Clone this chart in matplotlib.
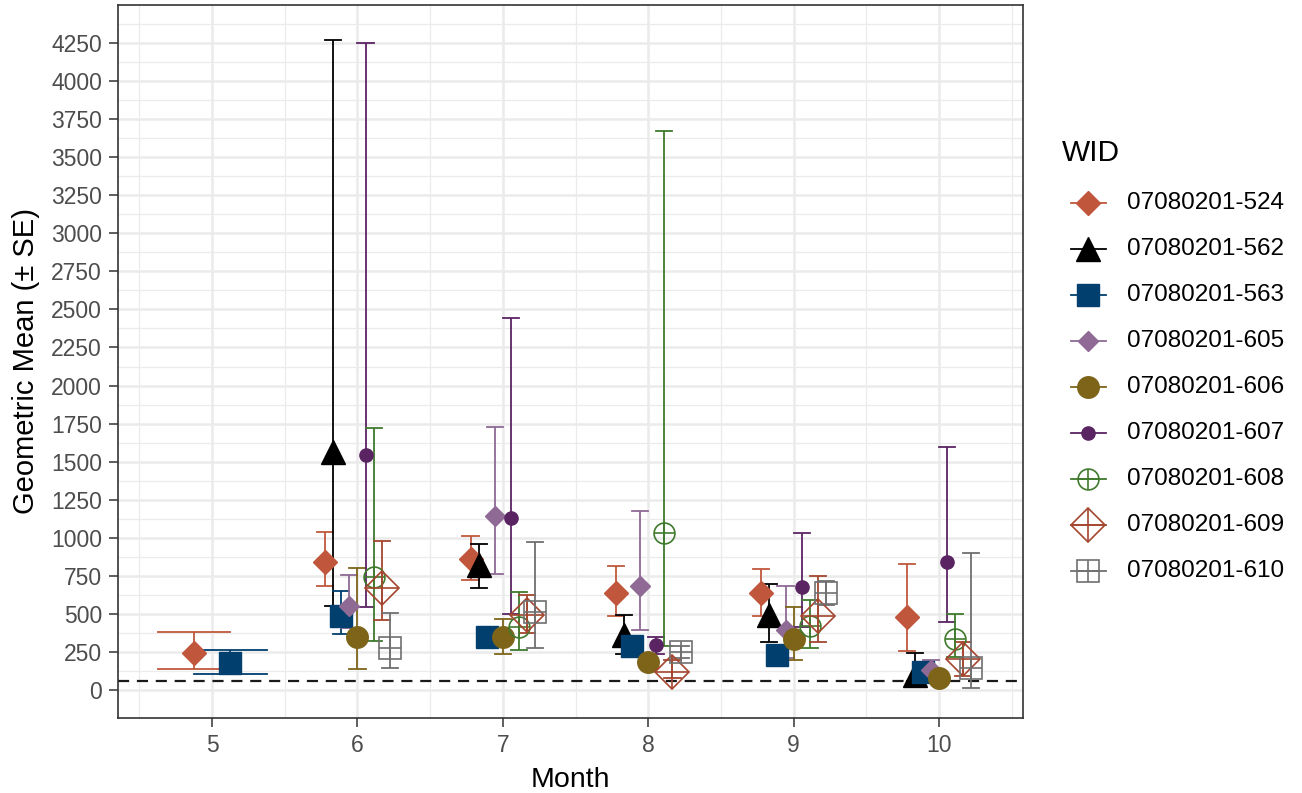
import numpy as np
import matplotlib.pyplot as plt

plt.rcParams['font.family'] = ['Liberation Sans', 'DejaVu Sans']

nan = np.nan

months = [5, 6, 7, 8, 9, 10]
wids = ['07080201-524', '07080201-562', '07080201-563', '07080201-605',
        '07080201-606', '07080201-607', '07080201-608', '07080201-609',
        '07080201-610']

# geometric mean per WID (rows) and month (columns)
gmean = np.array([
    [242, 844, 862, 636, 636, 479],
    [nan, 1564, 822, 362, 494, 100],
    [177, 483, 347, 286, 231, 121],
    [nan, 553, 1144, 684, 391, 132],
    [nan, 345, 345, 187, 334, 78],
    [nan, 1545, 1129, 297, 676, 844],
    [nan, 743, 417, 1030, 420, 336],
    [nan, 669, 494, 118, 487, 205],
    [nan, 275, 511, 247, 636, 144],
])
se_low = np.array([
    [139, 680, 724, 487, 487, 259],
    [nan, 553, 669, 236, 312, 60],
    [104, 367, 310, 250, 200, 100],
    [nan, 410, 761, 395, 209, 95],
    [nan, 139, 238, 160, 194, 60],
    [nan, 548, 498, 236, 417, 446],
    [nan, 325, 264, 286, 275, 220],
    [nan, 461, 374, 80, 314, 89],
    [nan, 144, 275, 210, 560, 12],
])
se_high = np.array([
    [380, 1037, 1013, 816, 796, 829],
    [nan, 4270, 958, 494, 695, 246],
    [260, 653, 385, 325, 265, 187],
    [nan, 756, 1730, 1179, 680, 198],
    [nan, 800, 468, 215, 548, 95],
    [nan, 4253, 2442, 347, 1034, 1599],
    [nan, 1720, 643, 3672, 588, 498],
    [nan, 982, 625, 200, 746, 318],
    [nan, 509, 969, 290, 717, 903],
])
threshold = 61

colors = ['#C0573D', '#000000', '#003F6E', '#8E6A94', '#7D6419',
          '#5A2462', '#3F7A2C', '#A4462F', '#6F6F6F']
# (marker, size, filled, plus-overlay size)
shapes = [('D', 12, True, 0), ('^', 17, True, 0), ('s', 15.5, True, 0),
          ('D', 10.5, True, 0), ('o', 15.5, True, 0), ('o', 9.5, True, 0),
          ('o', 15, False, 15), ('D', 17.5, False, 24.5), ('s', 16.5, False, 16.5)]

fig = plt.figure(figsize=(13.02, 7.93), dpi=100)
ax = fig.add_axes([118 / 1302, 1 - 718 / 793, 905 / 1302, 713 / 793])

# dodge: groups present in a month share a 0.5 wide slot, error bar caps 1/n wide
for j, m in enumerate(months):
    present = [i for i in range(len(wids)) if not np.isnan(gmean[i, j])]
    n = len(present)
    for k, i in enumerate(present):
        x = m + (k - (n - 1) / 2) * 0.5 / n
        hw = 0.5 / n
        c = colors[i]
        ax.plot([x, x], [se_low[i, j], se_high[i, j]], color=c, lw=1.3, zorder=3,
                solid_capstyle='butt')
        ax.plot([x - hw, x + hw], [se_low[i, j]] * 2, color=c, lw=1.3, zorder=3)
        ax.plot([x - hw, x + hw], [se_high[i, j]] * 2, color=c, lw=1.3, zorder=3)

for j, m in enumerate(months):
    present = [i for i in range(len(wids)) if not np.isnan(gmean[i, j])]
    n = len(present)
    for k, i in enumerate(present):
        x = m + (k - (n - 1) / 2) * 0.5 / n
        mk, ms, filled, plus = shapes[i]
        c = colors[i]
        ax.plot(x, gmean[i, j], marker=mk, ms=ms, ls='none', zorder=4,
                mfc=c if filled else 'none', mec=c, mew=1.0 if filled else 1.2)
        if plus:
            ax.plot(x, gmean[i, j], marker='+', ms=plus, ls='none', mec=c,
                    mew=1.2, zorder=4)

ax.axhline(threshold, color='#1A1A1A', lw=1.6, ls=(0, (5, 3.5)), zorder=2)

ax.set_xlim(4.353, 10.578)
ax.set_ylim(-184, 4500)
ax.set_xticks(months)
ax.set_xticks(np.arange(4.5, 11, 1), minor=True)
ax.set_yticks(np.arange(0, 4251, 250))
ax.set_yticks(np.arange(125, 4500, 250), minor=True)
ax.grid(True, which='major', color='#EBEBEB', lw=1.8, zorder=0)
ax.grid(True, which='minor', color='#EBEBEB', lw=0.9, zorder=0)
ax.set_axisbelow(True)
ax.tick_params(which='major', length=6.5, width=1.1, color='#333333',
               labelsize=16.5, labelcolor='#4D4D4D', pad=5)
ax.tick_params(which='minor', length=0)
for s in ax.spines.values():
    s.set_color('#333333')
    s.set_linewidth(1.2)

ax.set_xlabel('Month', fontsize=20.5, labelpad=7)
ax.set_ylabel('Geometric Mean (± SE)', fontsize=21, labelpad=8)

# legend
lax = fig.add_axes([0, 0, 1, 1])
lax.set_xlim(0, 1302)
lax.set_ylim(793, 0)
lax.axis('off')
lax.text(1062, 153, 'WID', fontsize=21.5, va='center', ha='left')
for i, w in enumerate(wids):
    y = 203 + i * 46
    c = colors[i]
    mk, ms, filled, plus = shapes[i]
    lax.plot([1071, 1106], [y, y], color=c, lw=1.3)
    lax.plot(1088, y, marker=mk, ms=ms, ls='none',
             mfc=c if filled else 'none', mec=c, mew=1.0 if filled else 1.2)
    if plus:
        lax.plot(1088, y, marker='+', ms=plus, ls='none', mec=c, mew=1.2)
    lax.text(1127, y, w, fontsize=17.5, va='center', ha='left')

fig.savefig('out.png', dpi=100)
